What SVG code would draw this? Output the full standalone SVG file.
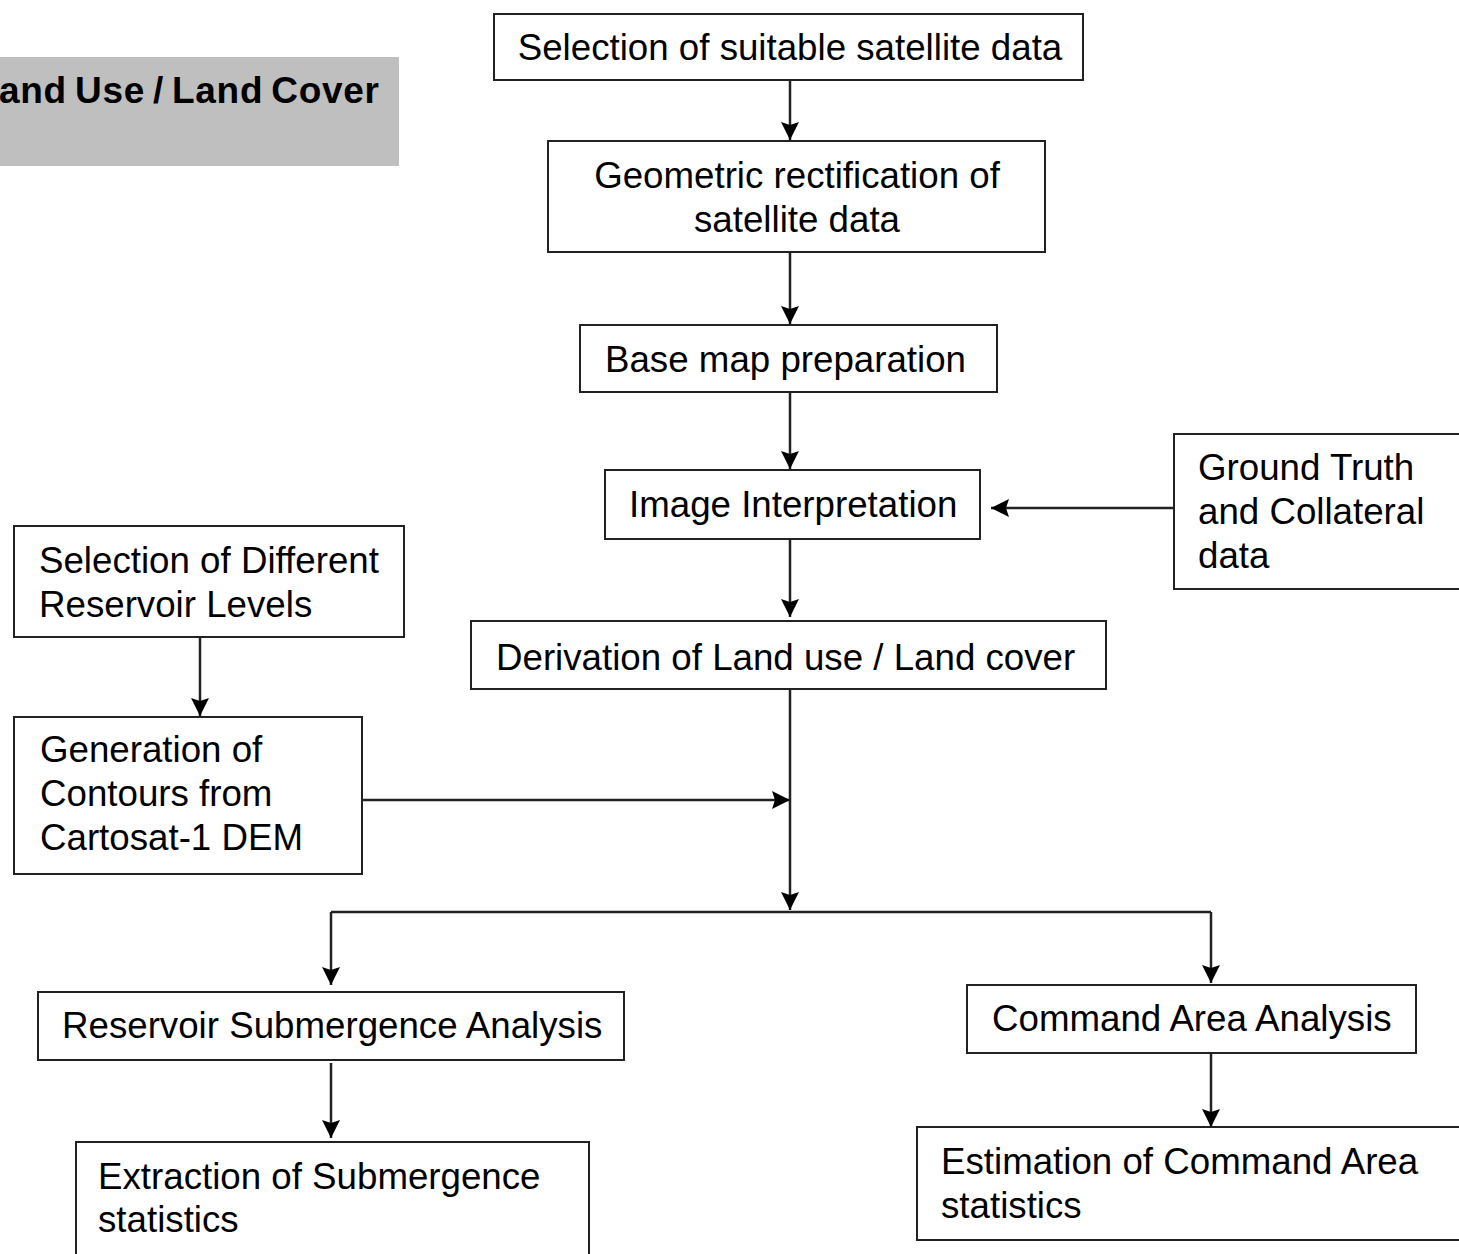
<svg xmlns="http://www.w3.org/2000/svg" width="1459" height="1254" viewBox="0 0 1459 1254">
<defs>
<style>
.box{fill:#fff;stroke:#222;stroke-width:2}
.t{font-family:"Liberation Sans",Arial,sans-serif;font-size:36.7px;fill:#000}
.c{text-anchor:middle}
.ln{stroke:#222;stroke-width:2.5;fill:none}
.arr{marker-end:url(#ah)}
</style>
<marker id="ah" markerUnits="userSpaceOnUse" markerWidth="20" markerHeight="20" refX="18" refY="9" orient="auto" viewBox="0 0 20 18">
<path d="M0,0 L18,9 L0,18 L3,9 z" fill="#000"/>
</marker>
</defs>
<rect x="0" y="57" width="399" height="109" fill="#bfbfbf"/>
<text x="-1" y="103" font-family="Liberation Sans,Arial,sans-serif" font-size="37" font-weight="bold" word-spacing="-3" textLength="380" lengthAdjust="spacing">and Use / Land Cover</text>
<g id="connectors">
<line class="ln arr" x1="790" y1="81" x2="790" y2="140"/>
<line class="ln arr" x1="790" y1="253" x2="790" y2="324"/>
<line class="ln arr" x1="790" y1="393" x2="790" y2="469"/>
<line class="ln arr" x1="790" y1="540" x2="790" y2="617"/>
<line class="ln arr" x1="1174" y1="508" x2="991" y2="508"/>
<line class="ln arr" x1="200" y1="638" x2="200" y2="716"/>
<line class="ln arr" x1="363" y1="800" x2="790" y2="800"/>
<line class="ln arr" x1="790" y1="690" x2="790" y2="910"/>
<line class="ln" x1="331" y1="912" x2="1211" y2="912"/>
<line class="ln arr" x1="331" y1="912" x2="331" y2="985"/>
<line class="ln arr" x1="1211" y1="912" x2="1211" y2="983"/>
<line class="ln arr" x1="331" y1="1063" x2="331" y2="1138"/>
<line class="ln arr" x1="1211" y1="1054" x2="1211" y2="1127"/>
</g>
<g id="n1"><rect class="box" x="494" y="14" width="589" height="66"/><text class="t c" x="790" y="60">Selection of suitable satellite data</text></g>
<g id="n2"><rect class="box" x="548" y="141" width="497" height="111"/><text class="t c" x="797" y="188">Geometric rectification of</text><text class="t c" x="797" y="232">satellite data</text></g>
<g id="n3"><rect class="box" x="580" y="325" width="417" height="67"/><text class="t" x="605" y="372">Base map preparation</text></g>
<g id="n4"><rect class="box" x="605" y="470" width="375" height="69"/><text class="t" x="629" y="517">Image Interpretation</text></g>
<g id="n5"><rect class="box" x="1174" y="434" width="295" height="155"/><text class="t" x="1198" y="480">Ground Truth</text><text class="t" x="1198" y="524">and Collateral</text><text class="t" x="1198" y="568">data</text></g>
<g id="n6"><rect class="box" x="471" y="621" width="635" height="68"/><text class="t" x="496" y="670">Derivation of Land use / Land cover</text></g>
<g id="n7"><rect class="box" x="14" y="526" width="390" height="111"/><text class="t" x="39" y="573">Selection of Different</text><text class="t" x="39" y="617">Reservoir Levels</text></g>
<g id="n8"><rect class="box" x="14" y="717" width="348" height="157"/><text class="t" x="40" y="762">Generation of</text><text class="t" x="40" y="806">Contours from</text><text class="t" x="40" y="850">Cartosat-1 DEM</text></g>
<g id="n9"><rect class="box" x="38" y="992" width="586" height="68"/><text class="t" x="62" y="1038">Reservoir Submergence Analysis</text></g>
<g id="n10"><rect class="box" x="967" y="985" width="449" height="68"/><text class="t" x="992" y="1031">Command Area Analysis</text></g>
<g id="n11"><rect class="box" x="76" y="1142" width="513" height="120"/><text class="t" x="98" y="1189">Extraction of Submergence</text><text class="t" x="98" y="1232">statistics</text></g>
<g id="n12"><rect class="box" x="917" y="1127" width="560" height="113"/><text class="t" x="941" y="1174">Estimation of Command Area</text><text class="t" x="941" y="1218">statistics</text></g>
</svg>
